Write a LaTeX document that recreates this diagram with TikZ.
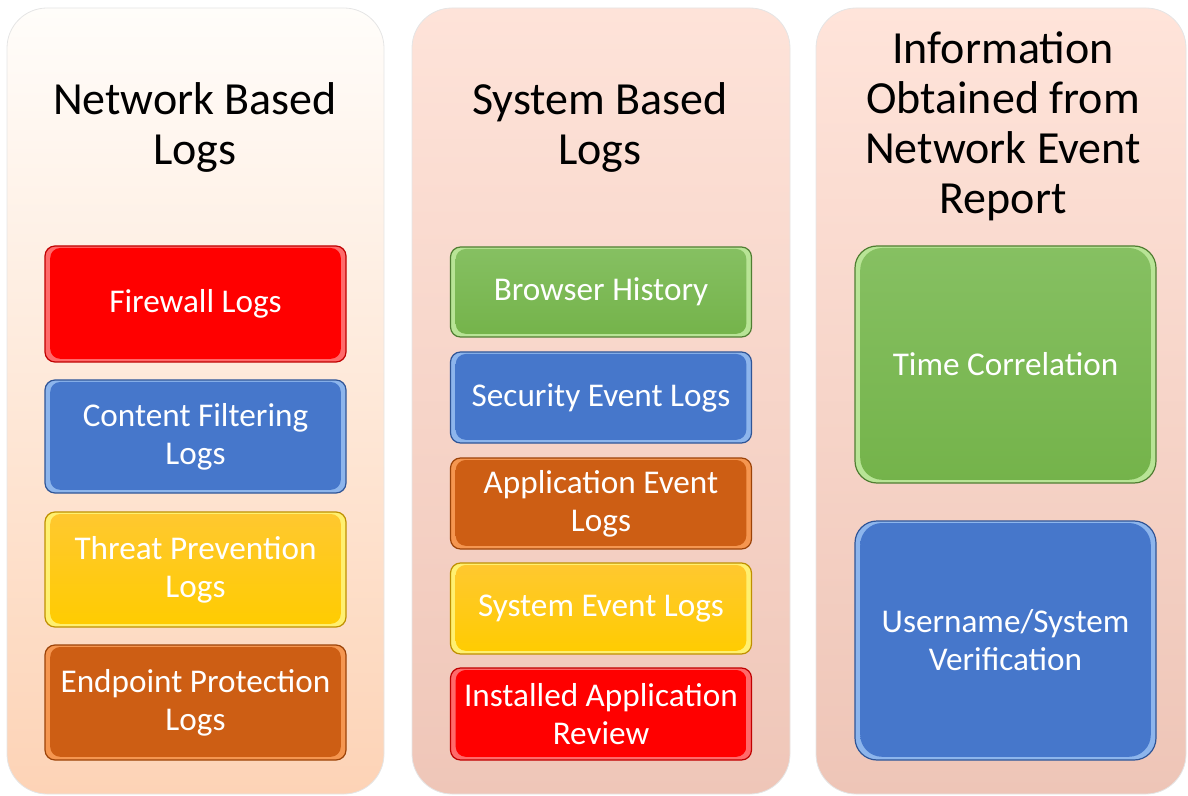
\documentclass[tikz,border=0pt]{standalone}
\usepackage{fontspec}
\setmainfont{Carlito}
\begin{document}
\begin{tikzpicture}[x=0.5pt,y=-0.5pt]
\definecolor{pA1}{HTML}{FFFDFA}\definecolor{pA2}{HTML}{FDD3B6}
\definecolor{pB1}{HTML}{FEE3D9}\definecolor{pB2}{HTML}{EFC6B8}
\definecolor{pC1}{HTML}{FFE4DA}\definecolor{pC2}{HTML}{EEC5B7}
\definecolor{rBase}{HTML}{FF0000}\definecolor{rHi}{HTML}{FF6A6A}\definecolor{rEdge}{HTML}{C00000}
\definecolor{bBase}{HTML}{4677CB}\definecolor{bHi}{HTML}{8DB5EC}\definecolor{bEdge}{HTML}{2F5597}
\definecolor{yBase}{HTML}{FFCC00}\definecolor{yTop}{HTML}{FFC830}\definecolor{yHi}{HTML}{FFF070}\definecolor{yEdge}{HTML}{BF9000}
\definecolor{oBase}{HTML}{CD5E14}\definecolor{oHi}{HTML}{F59650}\definecolor{oEdge}{HTML}{9C4308}
\definecolor{gBase}{HTML}{74B34A}\definecolor{gTop}{HTML}{86C062}\definecolor{gHi}{HTML}{B8E496}\definecolor{gEdge}{HTML}{507E32}
\tikzset{
  panel/.style={rounded corners=20pt, draw=black!10, line width=0.4pt},
  ttl/.style={font=\fontsize{23}{25}\selectfont, align=center, text=black},
  bevbox/.style n args={5}{rectangle, rounded corners=#5, draw=#4, line width=0.6pt,
     fill=#3, text=white, align=center, inner sep=0pt,
     font=\fontsize{16.6}{19}\selectfont,
     path picture={\shade[top color=#1, bottom color=#2, rounded corners=#5]
        ([xshift=2.6pt,yshift=1.6pt]path picture bounding box.south west) rectangle
        ([xshift=-2.6pt,yshift=-1pt]path picture bounding box.north east);}},
  redbox/.style={bevbox={rBase}{rBase}{rHi}{rEdge}{5pt}},
  bluebox/.style={bevbox={bBase}{bBase}{bHi}{bEdge}{5pt}},
  yelbox/.style={bevbox={yTop}{yBase}{yHi}{yEdge}{5pt}},
  orabox/.style={bevbox={oBase}{oBase}{oHi}{oEdge}{5pt}},
  grnbox/.style={bevbox={gTop}{gBase}{gHi}{gEdge}{5pt}},
  w1/.style={minimum width=150.5pt},
}
\useasboundingbox (0,0) rectangle (1188,796);
% panels
\shade[panel, top color=pA1, bottom color=pA2] (7,8) rectangle (384,794);
\shade[panel, top color=pB1, bottom color=pB2] (412,8) rectangle (790,794);
\shade[panel, top color=pC1, bottom color=pC2] (816,8) rectangle (1186,794);
% titles
\node[ttl] (t1) at (195,127) {Network Based\\Logs};
\node[ttl] (t2) at (600,127) {System Based\\Logs};
\node[ttl] (t3) at (1003,126) {Information\\Obtained from\\Network Event\\Report};
% column 1
\node[redbox, w1, minimum height=58pt] (fw) at (195.5,304) {Firewall Logs};
\node[bluebox, w1, minimum height=56.5pt] (cf) at (195.5,436.5) {Content Filtering\\Logs};
\node[yelbox, w1, minimum height=57.5pt] (tp) at (195.5,569.5) {Threat Prevention\\Logs};
\node[orabox, w1, minimum height=57.5pt] (ep) at (195.5,702.5) {Endpoint Protection\\Logs};
% column 2
\node[grnbox, w1, minimum height=45pt] (bh) at (601,292) {Browser History};
\node[bluebox, w1, minimum height=45.5pt] (se) at (601,397.5) {Security Event Logs};
\node[orabox, w1, minimum height=45.5pt] (ae) at (601,503.5) {Application Event\\Logs};
\node[yelbox, w1, minimum height=45.5pt] (sy) at (601,608.5) {System Event Logs};
\node[redbox, w1, minimum height=46pt] (ia) at (601,714) {Installed Application\\Review};
% column 3
\node[bevbox={gTop}{gBase}{gHi}{gEdge}{11pt}, w1, minimum height=118.5pt] (tc) at (1005.5,364.5) {Time Correlation};
\node[bevbox={bBase}{bBase}{bHi}{bEdge}{11pt}, w1, minimum height=119.5pt] (us) at (1005.5,640.5) {Username/System\\Verification};
\end{tikzpicture}
\end{document}
